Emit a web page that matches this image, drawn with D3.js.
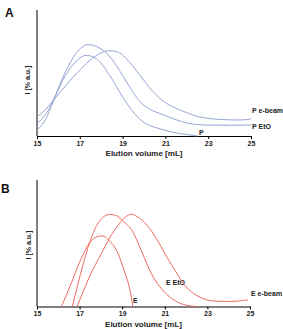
<!DOCTYPE html>
<html><head><meta charset="utf-8">
<script src="https://cdn.jsdelivr.net/npm/d3@7"></script>
<style>body{margin:0;background:#fff}svg{display:block}</style>
</head><body>
<svg id="c" width="283" height="329"></svg>
<script>
// x tick labels
const xTicks = [15, 17, 19, 21, 23, 25];
// Panel A series [elution volume, intensity]
const P = [[15,4.8],[15.4,13],[15.75,27],[16.2,44],[16.7,57],[17.3,64],[17.8,61],[18.4,48],[19,31],[19.5,19],[19.9,12],[20.4,7.5],[20.9,5],[21.4,2.8],[22,1.2],[22.5,0]];
const PEtO = [[15,10],[15.4,17],[15.75,28],[16.3,50],[16.8,65],[17.4,72.5],[18,69],[18.5,61],[19,48],[19.4,37],[19.8,27.5],[20.3,21],[20.8,17.5],[21.4,13.5],[22.1,10],[22.9,8.7],[24,8.5],[25,8.7]];
const PEbeam = [[15,15.3],[15.4,21],[15.75,28],[16.2,37],[16.7,47],[17.1,54],[17.5,60.5],[18,66],[18.35,67.7],[18.8,66.5],[19.3,59],[19.8,48.5],[20.4,35.5],[21,26.5],[21.5,22],[22,18.5],[22.5,15.5],[23,14],[23.7,13],[24.5,12.7],[25,13.5]];
// Panel B series
const E = [[16.15,0],[16.6,18],[17,35],[17.5,51],[17.8,55],[18.05,55.8],[18.4,52],[18.8,42],[19.1,28],[19.35,14],[19.5,0]];
const EEtO = [[16.66,0],[17.16,33],[17.5,52],[17.8,64],[18.1,70.5],[18.4,72.8],[18.7,72],[19,68],[19.5,59],[19.9,44],[20.4,25],[20.9,13],[21.4,5.5],[21.9,1.5],[22.5,0]];
const EEbeam = [[16.88,0],[17.2,13],[17.5,25],[18,41],[18.4,54],[18.8,64],[19.1,70],[19.42,72.9],[19.8,70],[20.3,61.5],[20.7,51],[21.1,39],[21.5,28],[21.9,17.5],[22.3,11],[22.7,7],[23.3,4.3],[24.1,4],[24.9,5.3]];

const svg = d3.select("#c");
const font = "Liberation Sans, Arial, sans-serif";

function panel(cfg){
  const x = d3.scaleLinear().domain([15,25]).range([37, cfg.xr]);
  const y = d3.scaleLinear().domain([0,100]).range([cfg.y0, cfg.y1]);
  const g = svg.append("g");
  const ax = g.append("g").attr("transform",`translate(0,${cfg.y0})`)
    .call(d3.axisBottom(x).tickValues(xTicks).tickSize(3).tickSizeOuter(0).tickFormat(d3.format("d")));
  ax.select(".domain").attr("stroke","#000").attr("stroke-width",1);
  ax.selectAll(".tick line").attr("stroke","#000");
  ax.selectAll("text").attr("font-family",font).attr("font-weight","bold").attr("font-size",7).attr("dy","0.55em").attr("fill","#222");
  g.append("line").attr("x1",x(15)).attr("x2",x(15)).attr("y1",cfg.y1).attr("y2",cfg.y0).attr("stroke","#000").attr("stroke-width",1);
  g.append("text").attr("x",(x(15)+x(25))/2).attr("y",cfg.y0+20).attr("text-anchor","middle")
    .attr("font-family",font).attr("font-weight","bold").attr("font-size",8).attr("fill","#222").text("Elution volume [mL]");
  g.append("text").attr("transform",`translate(${cfg.ytx},${cfg.yty}) rotate(-90)`).attr("text-anchor","middle")
    .attr("font-family",font).attr("font-weight","bold").attr("font-size",7).attr("fill","#222").text("I [% a.u.]");
  g.append("text").attr("x",cfg.lx).attr("y",cfg.ly).attr("font-family",font).attr("font-weight","bold").attr("font-size",12).attr("fill","#111").text(cfg.letter);
  const line = d3.line().x(d=>x(d[0])).y(d=>y(d[1])).curve(d3.curveMonotoneX);
  cfg.series.forEach(s=>{
    g.append("path").attr("d",line(s.data)).attr("fill","none").attr("stroke",cfg.color).attr("stroke-width",0.9);
    g.append("text").attr("x",s.lx).attr("y",s.ly).attr("font-family",font).attr("font-weight","bold").attr("font-size",7).attr("fill","#222").text(s.name);
  });
}

panel({xr:251, y0:136, y1:10, color:"#8a9bcf", ytx:30, yty:80, letter:"A", lx:5, ly:17,
  series:[
    {data:P, name:"P", lx:199, ly:135},
    {data:PEtO, name:"P EtO", lx:252, ly:128.5},
    {data:PEbeam, name:"P e-beam", lx:252, ly:113}
  ]});
panel({xr:250, y0:306.5, y1:180, color:"#ea5a50", ytx:31, yty:245, letter:"B", lx:1, ly:193,
  series:[
    {data:E, name:"E", lx:133, ly:302.5},
    {data:EEtO, name:"E EtO", lx:166, ly:285},
    {data:EEbeam, name:"E e-beam", lx:251, ly:296}
  ]});
</script>
</body></html>
